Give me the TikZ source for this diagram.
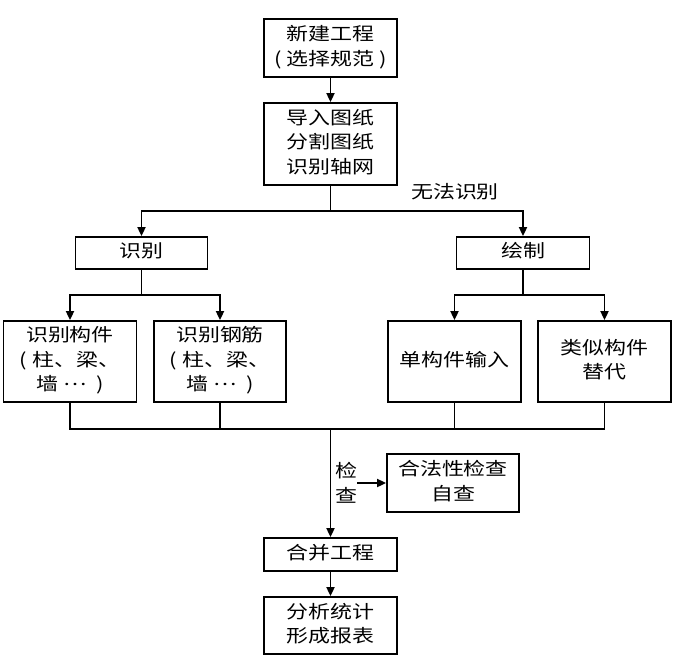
\documentclass[tikz,border=0pt]{standalone}
\usepackage{fontspec}
\usepackage{graphicx}
\setmainfont{Noto Sans CJK SC}
\usetikzlibrary{arrows.meta}
\newcommand{\TX}[1]{\scalebox{1.22}[1]{\begin{tabular}{@{}c@{}}#1\end{tabular}}}
\newcommand{\mdots}{\raisebox{0.3em}{⋯}}
\begin{document}
\begin{tikzpicture}[x=1pt,y=-1pt,
  txt/.style={font=\fontsize{18}{24.5}\selectfont},
  box/.style={txt, draw, line width=1.8pt, inner sep=0pt, align=center, minimum width=133pt},
  lab/.style={txt, inner sep=0pt, align=center},
  conn/.style={line width=1.8pt},
  arr/.style={conn, -{Triangle[length=9pt,width=8pt]}}]
\useasboundingbox[fill=white] (0,0) rectangle (675,662);
% boxes
\node[box, minimum height=58pt] (b1) at (330.5,48) {\TX{新建工程\\( 选择规范 )}};
\node[box, minimum height=82pt] (b2) at (330.5,144) {\TX{导入图纸\\分割图纸\\识别轴网}};
\node[box, minimum height=32pt, minimum width=132pt] (sb) at (141.5,253) {\TX{识别}};
\node[box, minimum height=32pt] (hz) at (523,253) {\TX{绘制}};
\node[box, minimum height=81pt] (r3a) at (70,361.5) {\TX{识别构件\\( 柱、梁、\\墙\ \mdots\ \ )}};
\node[box, minimum height=81pt, minimum width=132pt] (r3b) at (220,361.5) {\TX{识别钢筋\\( 柱、梁、\\墙\ \mdots\ \ )}};
\node[box, minimum height=81pt] (r3c) at (454.5,361.5) {\TX{单构件输入}};
\node[box, minimum height=81pt] (r3d) at (604.5,361.5) {\TX{类似构件\\替代}};
\node[box, minimum height=58pt, minimum width=132pt] (ck) at (453,483) {\TX{合法性检查\\自查}};
\node[box, minimum height=33pt] (mg) at (330.5,554.5) {\TX{合并工程}};
\node[box, minimum height=57pt] (fn) at (330.5,625.5) {\TX{分析统计\\形成报表}};
% labels
\node[lab] (wf) at (455,194) {\TX{无法识别}};
\node[lab] (jc) at (346,485) {\TX{检\\查}};
% junctions
\coordinate (j1) at (330.5,211);
\coordinate (j2) at (141.5,295);
\coordinate (j3) at (523,295);
\coordinate (j4) at (330.5,429);
% connectors
\draw[arr] (b1) -- (b2);
\draw[conn] (b2.south) -- (j1);
\draw[arr] (j1) -| (sb);
\draw[arr] (j1) -| (hz);
\draw[conn] (sb.south) -- (j2);
\draw[arr] (j2) -| (r3a);
\draw[arr] (j2) -| (r3b);
\draw[conn] (hz.south) -- (j3);
\draw[arr] (j3) -| (r3c);
\draw[arr] (j3) -| (r3d);
\draw[conn] (r3a.south) |- (j4);
\draw[conn] (r3b.south) |- (j4);
\draw[conn] (r3c.south) |- (j4);
\draw[conn] (r3d.south) |- (j4);
\draw[arr] (j4) -- (mg);
\draw[arr] (jc.east |- ck.west) -- (ck.west);
\draw[arr] (mg) -- (fn);
\end{tikzpicture}
\end{document}
